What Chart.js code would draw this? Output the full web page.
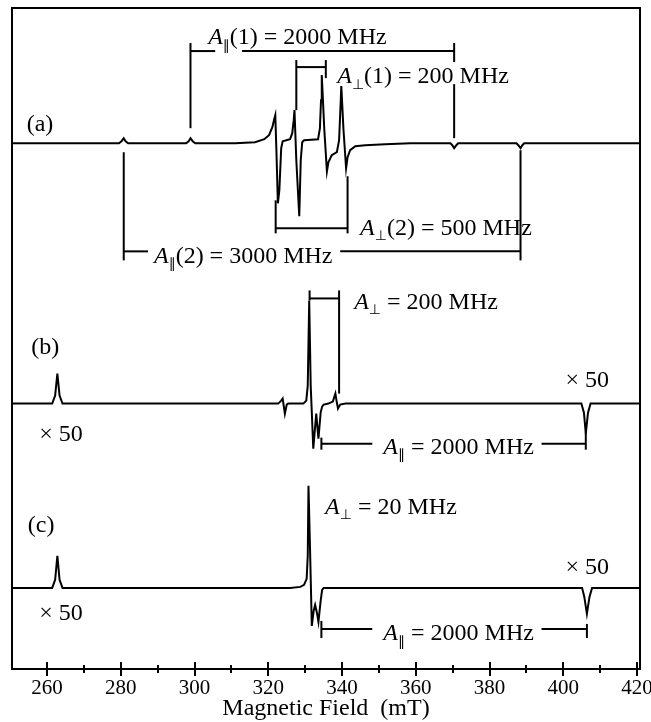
<!DOCTYPE html>
<html>
<head>
<meta charset="utf-8">
<script src="https://cdn.jsdelivr.net/npm/chart.js@4.4.1/dist/chart.umd.min.js"></script>
<style>
  html, body { margin: 0; padding: 0; background: #fff; }
  #wrap { width: 651px; height: 722px; }
</style>
</head>
<body>
<div id="wrap"><canvas id="chart1"></canvas></div>
<script>
// x axis ticks (mT)
var majorTicks = [260, 280, 300, 320, 340, 360, 380, 400, 420];
var minorTicks = [270, 290, 310, 330, 350, 370, 390, 410];

// spectrum (a) : field (mT) / signal (arb.)
var fieldA = [250.5, 279.5, 280.2, 280.8, 281.3, 282.0, 297.7, 298.4, 298.9, 299.5, 300.2,
  311.0, 316.4, 318.9, 320.2, 321.1, 321.6, 321.9, 322.2, 322.6, 323.0, 323.5, 323.9, 324.9,
  325.9, 326.5, 326.9, 327.1, 327.6, 328.4, 328.8, 329.2, 329.7, 333.5, 334.0, 334.3, 334.5,
  335.2, 335.9, 336.3, 337.2, 338.6, 339.2, 339.6, 339.8, 340.4, 341.1, 341.5, 342.2, 343.6,
  346.3, 351.7, 358.5, 369.4, 369.9, 370.4, 371.0, 371.5, 387.3, 387.8, 388.4, 388.9, 389.4, 420.8];
var signalA = [0, 0, 2, 5, 2, 0, 0, 2, 5, 2, 0,
  0, 1, 4, 8, 16, 24, 28, -7, -60, -47, -5, 2, 3,
  4, 10, 23, 33, -17, -73, -17, 1, 3, 4, 15, 43, 68,
  13, -28, -19, -12, -9, 3, 38, 57, 13, -25, -14, -7, -3,
  -2, -1, 0, 0, -2, -5, -2, 0, 0, -2, -5, -2, 0, 0];

// spectrum (b)
var fieldB = [250.5, 261.4, 262.2, 262.8, 263.4, 264.2, 322.7, 323.5, 323.9, 324.5, 325.0, 325.4,
  329.5, 330.3, 330.7, 331.1, 331.5, 332.2, 333.0, 333.6, 334.2, 334.6, 335.0, 336.3, 337.5,
  338.2, 338.5, 338.9, 339.5, 340.9, 404.9, 405.6, 406.1, 406.7, 407.4, 420.8];
var signalB = [0, 0, 8, 30, 8, 0, 0, 3, 5, -10, -1, 0,
  0, 3, 18, 103, 18, -45, -10, -35, -9, -3, -1, 0, 2,
  10, 3, -5, -1, 0, 0, -9, -30, -9, 0, 0];

// spectrum (c)
var fieldC = [250.5, 261.4, 262.2, 262.8, 263.4, 264.2, 325.9, 328.7, 329.7, 330.4, 330.7, 330.9,
  331.3, 331.8, 332.3, 332.7, 333.2, 333.6, 334.2, 334.6, 335.0, 405.1, 405.7, 406.4, 407.1, 407.8, 420.8];
var signalC = [0, 0, 8, 32, 8, 0, 0, 1, 3, 9, 32, 102,
  42, -38, -23, -17, -25, -34, -13, -2, 0, 0, -9, -26, -9, 0, 0];

// vertical offsets of the three traces
var baseA = 525, baseB = 265, baseC = 81;

function toPoints(field, signal, base) {
  return field.map(function (f, i) { return { x: f, y: base + signal[i] }; });
}

var serif = '"Liberation Serif", "Times New Roman", serif';

// brackets: x in mT, y in axis units
var brackets = [
  { x1: 298.9, x2: 370.4, y: 617, gap: [305.6, 312.9], left: [625, 540], right: [625, 530], rgap: [606, 584] },
  { x1: 327.6, x2: 335.6, y: 601, left: [608, 558], right: [608, 590] },
  { x1: 322.0, x2: 341.5, y: 440, left: [468, 435], right: [492, 435] },
  { x1: 280.8, x2: 388.4, y: 417, gap: [287.4, 339.5], left: [516, 408], right: [518, 408] },
  { x1: 331.2, x2: 339.2, y: 370, left: [378, 368], right: [378, 275] },
  { x1: 334.4, x2: 406.1, y: 225, gap: [348.2, 394.1], left: [231, 219], right: [236, 219] },
  { x1: 334.4, x2: 406.4, y: 40, gap: [348.2, 394.1], left: [48, 31], right: [45, 31] }
];

// hyperfine labels
var hfLabels = [
  { x: 303.7, y: 630, sym: '\u2225', rest: '(1) = 2000 MHz' },
  { x: 338.7, y: 591, sym: '\u22A5', rest: '(1) = 200 MHz' },
  { x: 344.9, y: 440, sym: '\u22A5', rest: '(2) = 500 MHz' },
  { x: 289.0, y: 412, sym: '\u2225', rest: '(2) = 3000 MHz' },
  { x: 343.3, y: 366, sym: '\u22A5', rest: ' = 200 MHz' },
  { x: 351.2, y: 221, sym: '\u2225', rest: ' = 2000 MHz' },
  { x: 335.4, y: 161, sym: '\u22A5', rest: ' = 20 MHz' },
  { x: 351.2, y: 35, sym: '\u2225', rest: ' = 2000 MHz' }
];

var plainLabels = [
  { x: 258.1, y: 543, text: '(a)' },
  { x: 259.5, y: 321, text: '(b)' },
  { x: 258.4, y: 143, text: '(c)' },
  { x: 263.8, y: 234, text: '\u00D7 50' },
  { x: 406.5, y: 288, text: '\u00D7 50' },
  { x: 263.8, y: 55, text: '\u00D7 50' },
  { x: 406.5, y: 101, text: '\u00D7 50' }
];

function seg(ctx, x1, y1, x2, y2) {
  ctx.beginPath();
  ctx.moveTo(x1, y1);
  ctx.lineTo(x2, y2);
  ctx.stroke();
}

var decoPlugin = {
  id: 'deco',
  afterDraw: function (chart) {
    var ctx = chart.ctx, a = chart.chartArea;
    var sx = chart.scales.x, sy = chart.scales.y;
    ctx.save();
    ctx.strokeStyle = '#000';
    ctx.fillStyle = '#000';
    ctx.lineWidth = 2;
    ctx.strokeRect(a.left, a.top, a.right - a.left, a.bottom - a.top);

    // ticks crossing the bottom axis
    majorTicks.forEach(function (v) {
      var x = Math.round(sx.getPixelForValue(v));
      seg(ctx, x, a.bottom - 7, x, a.bottom + 7);
    });
    minorTicks.forEach(function (v) {
      var x = Math.round(sx.getPixelForValue(v));
      seg(ctx, x, a.bottom - 4, x, a.bottom + 4);
    });

    brackets.forEach(function (b) {
      var x1 = sx.getPixelForValue(b.x1), x2 = sx.getPixelForValue(b.x2);
      var y = sy.getPixelForValue(b.y);
      if (b.gap) {
        seg(ctx, x1, y, sx.getPixelForValue(b.gap[0]), y);
        seg(ctx, sx.getPixelForValue(b.gap[1]), y, x2, y);
      } else {
        seg(ctx, x1, y, x2, y);
      }
      seg(ctx, x1, sy.getPixelForValue(b.left[0]), x1, sy.getPixelForValue(b.left[1]));
      if (b.rgap) {
        seg(ctx, x2, sy.getPixelForValue(b.right[0]), x2, sy.getPixelForValue(b.rgap[0]));
        seg(ctx, x2, sy.getPixelForValue(b.rgap[1]), x2, sy.getPixelForValue(b.right[1]));
      } else {
        seg(ctx, x2, sy.getPixelForValue(b.right[0]), x2, sy.getPixelForValue(b.right[1]));
      }
    });

    ctx.textBaseline = 'middle';
    ctx.textAlign = 'left';
    hfLabels.forEach(function (t) {
      var x = sx.getPixelForValue(t.x), y = sy.getPixelForValue(t.y);
      ctx.font = 'italic 24px ' + serif;
      ctx.fillText('A', x, y);
      x += ctx.measureText('A').width;
      ctx.font = '14px "DejaVu Sans", sans-serif';
      ctx.fillText(t.sym, x, y + 8);
      x += ctx.measureText(t.sym).width;
      ctx.font = '24px ' + serif;
      ctx.fillText(t.rest, x, y);
    });

    ctx.textAlign = 'center';
    ctx.font = '24px ' + serif;
    plainLabels.forEach(function (t) {
      ctx.fillText(t.text, sx.getPixelForValue(t.x), sy.getPixelForValue(t.y));
    });
    ctx.restore();
  }
};

var traceStyle = { borderColor: '#000', borderWidth: 2, pointRadius: 0, showLine: true, tension: 0 };

const ctx1 = document.getElementById('chart1');
const epr = new Chart(ctx1, {
  type: 'scatter',
  data: {
    datasets: [
      Object.assign({ label: '(a)', data: toPoints(fieldA, signalA, baseA) }, traceStyle),
      Object.assign({ label: '(b)', data: toPoints(fieldB, signalB, baseB) }, traceStyle),
      Object.assign({ label: '(c)', data: toPoints(fieldC, signalC, baseC) }, traceStyle)
    ]
  },
  options: {
    responsive: true,
    maintainAspectRatio: false,
    animation: false,
    layout: { padding: { left: 12, right: 11, top: 8, bottom: 0 } },
    plugins: { legend: { display: false }, tooltip: { enabled: false } },
    scales: {
      x: {
        type: 'linear',
        min: 250.5,
        max: 420.8,
        afterBuildTicks: function (s) { s.ticks = majorTicks.map(function (v) { return { value: v }; }); },
        afterFit: function (s) { s.paddingLeft = 0; s.paddingRight = 0; },
        grid: { display: false, drawTicks: false },
        border: { display: false },
        ticks: { color: '#000', autoSkip: false, maxRotation: 0, padding: 9,
          font: { family: serif, size: 21, lineHeight: 1 } },
        title: { display: true, text: 'Magnetic Field  (mT)', color: '#000',
          font: { family: serif, size: 24, lineHeight: 1 }, padding: { top: -11, bottom: 1 } }
      },
      y: { display: false, min: 0, max: 660 }
    }
  },
  plugins: [decoPlugin]
});
</script>
</body>
</html>
